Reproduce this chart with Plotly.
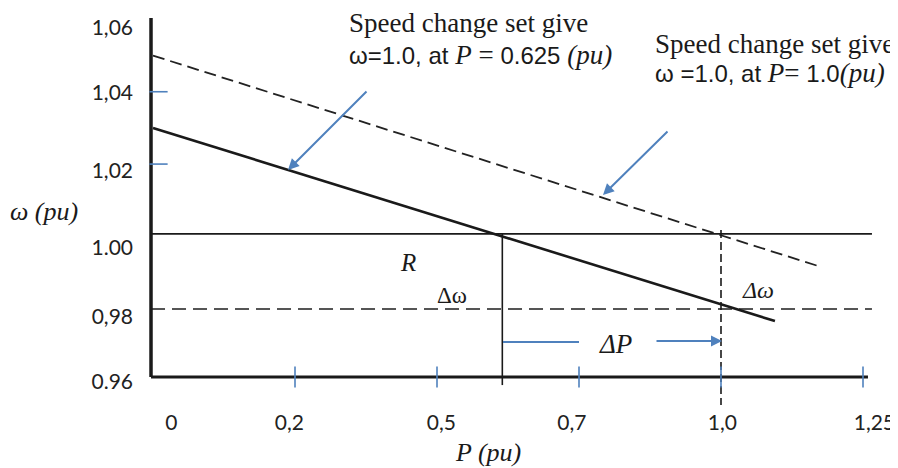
import plotly.graph_objects as go

# ---------------- data (sketch units: P-axis tick index, omega in pu) ----------------
x_tick_marks = [1, 2, 3, 4, 5]
x_label_pos = [0.13, 0.96, 2.03, 2.95, 4.01, 5.08]
x_tick_labels = ["0", "0,2", "0,5", "0,7", "1,0", "1,25"]

y_label_pos = [1.0576, 1.0398, 1.0181, 0.9968, 0.9779, 0.9598]
y_tick_labels = ["1,06", "1,04", "1,02", "1.00", "0,98", "0.96"]
y_tick_marks = [1.04, 1.02]

droop_a_P = [0.0, 4.38]        # set so that w=1.0 at P=0.625
droop_a_w = [1.03, 0.9766]
droop_b_P = [0.0, 4.71]        # set so that w=1.0 at P=1.0
droop_b_w = [1.05, 0.9915]

ref_P = [-0.014, 5.063]
ref_hi_w = [1.0007, 1.0007]
ref_lo_w = [0.9799, 0.9799]

P1_x = [2.46, 2.46]
P1_w = [1.0007, 0.9589]
P2_x = [4.0, 4.0]
P2_w = [1.0018, 0.9534]

xaxis_P = [-0.014, 5.035]
xaxis_w = [0.9611, 0.9611]
yaxis_P = [-0.014, -0.014]
yaxis_w = [0.9611, 1.0604]

BLUE = "#4f81bd"
INK = "#1a1a1a"

fig = go.Figure()

def line(x, y, color=INK, width=2, dash="solid"):
    fig.add_trace(go.Scatter(x=x, y=y, mode="lines",
                             line=dict(color=color, width=width, dash=dash),
                             hoverinfo="skip", showlegend=False))

# reference lines
line(ref_P, ref_hi_w, width=1.6)
line(ref_P, ref_lo_w, color="#555555", width=2, dash="14px,7px")
# droop characteristics
line(droop_b_P, droop_b_w, color="#222222", width=1.8, dash="12px,6px")
line(droop_a_P, droop_a_w, width=2.6)
# verticals
line(P1_x, P1_w, width=1.6)
line(P2_x, P2_w, width=1.6, dash="8px,4px")
# axes
line(xaxis_P, xaxis_w, width=3)
line(yaxis_P, yaxis_w, width=3.5)

# blue tick marks
fig.add_trace(go.Scatter(x=x_tick_marks, y=[xaxis_w[0]] * len(x_tick_marks), mode="markers",
                         marker=dict(symbol="line-ns", size=15, line=dict(color=BLUE, width=1.6)),
                         hoverinfo="skip", showlegend=False))
fig.add_trace(go.Scatter(x=[0.039] * len(y_tick_marks), y=y_tick_marks, mode="markers",
                         marker=dict(symbol="line-ew", size=13, line=dict(color=BLUE, width=1.6)),
                         hoverinfo="skip", showlegend=False))

# ---------------- layout helpers (reference pixel -> paper) ----------------
L, R, T, B = 140, 880, 10, 408      # plot area in reference pixels
W, H = 898, 468
OFF = 8                              # page body margin offset
def px(x):
    return (x - L) / (R - L)
def py(y):
    return (B - y) / (B - T)

SERIF = "Liberation Serif, Times New Roman, serif"

def text(x, y, s, size, xanchor="left", family=SERIF):
    fig.add_annotation(x=px(x), y=py(y), xref="paper", yref="paper", text=s,
                       showarrow=False, xanchor=xanchor, yanchor="middle",
                       font=dict(family=family, size=size, color=INK))

def arrow(x_tip, y_tip, x_tail, y_tail):
    fig.add_annotation(x=px(x_tip), y=py(y_tip), xref="paper", yref="paper",
                       ax=x_tail - x_tip, ay=y_tail - y_tip, text="",
                       showarrow=True, arrowhead=2, arrowsize=1.1, arrowwidth=2,
                       arrowcolor=BLUE, standoff=0)

SS = '<span style="font-family:Liberation Sans;font-size:24px">'
text(347, 23, "Speed change set give", 27)
text(347, 55, SS + 'ω=1.0, at </span><i>P</i> = ' + SS + '0.625</span> <i>(pu)</i>', 27)
text(653, 44, "Speed change set give", 27)
text(653, 73, SS + 'ω =1.0, at </span><i>P</i>= ' + SS + '1.0</span><i>(pu)</i>', 27)

arrow(288, 170, 368, 90)
arrow(603, 195, 669, 130)

text(8, 211, "<i>ω (pu)</i>", 26)
text(488, 452, "<i>P (pu)</i>", 26, xanchor="center")
text(408, 262, "<i>R</i>", 25, xanchor="center")
text(452, 295, "Δω", 23, xanchor="center")
text(758, 290, "<i>Δω</i>", 24, xanchor="center")
text(615, 344, "<i>ΔP</i>", 27, xanchor="center")

# ΔP indicator
fig.add_shape(type="line", xref="paper", yref="paper", x0=px(503), x1=px(579),
              y0=py(342), y1=py(342), line=dict(color=BLUE, width=2))
arrow(722, 341, 655, 341)

TICKFONT = dict(family="Lato, Carlito, sans-serif", size=21, color="#222222")
fig.update_layout(
    width=W, height=H,
    margin=dict(l=L - OFF, r=W - R + OFF, t=T - OFF, b=H - B + OFF),
    paper_bgcolor="white", plot_bgcolor="white",
    showlegend=False,
    xaxis=dict(range=[-0.0915, 5.1197], tickvals=x_label_pos, ticktext=x_tick_labels,
               ticks="", showgrid=False, zeroline=False, showline=False, automargin=False,
               tickfont=TICKFONT),
    yaxis=dict(range=[0.95256, 1.0626], tickvals=y_label_pos, ticktext=y_tick_labels,
               ticks="", showgrid=False, zeroline=False, showline=False, automargin=False,
               ticklabelstandoff=6, tickfont=TICKFONT),
)

fig.write_html("out.html")
